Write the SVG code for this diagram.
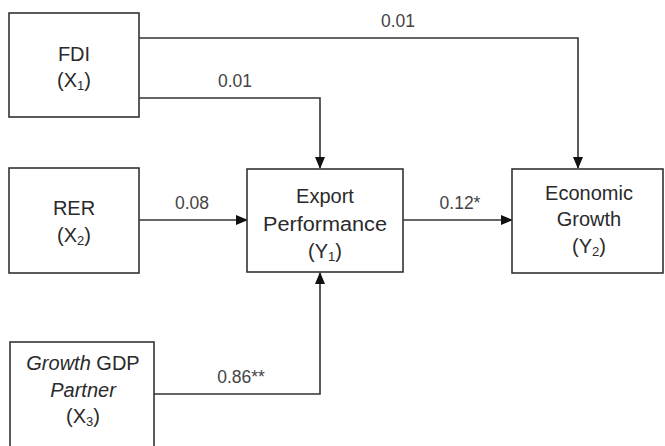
<svg xmlns="http://www.w3.org/2000/svg" width="665" height="446" viewBox="0 0 665 446">
<style>
.box{fill:#fff;stroke:#333;stroke-width:1.6}
.t{font-family:"Liberation Sans",Arial,sans-serif;font-size:20px;fill:#2a2a2a;text-anchor:middle}
.l{font-family:"Liberation Sans",Arial,sans-serif;font-size:17.5px;fill:#444;text-anchor:middle}
.c{fill:none;stroke:#333;stroke-width:1.6}
.sub{font-size:13px}
</style>
<defs>
<marker id="ah" markerWidth="12" markerHeight="10" refX="11" refY="5" orient="auto" markerUnits="userSpaceOnUse">
<path d="M0,0 L12,5 L0,10 Z" fill="#111"/>
</marker>
</defs>
<rect width="665" height="446" fill="#fff"/>
<g id="connectors">
<path class="c" d="M139,38 H578 V168" marker-end="url(#ah)"/>
<path class="c" d="M139,98 H320 V168" marker-end="url(#ah)"/>
<path class="c" d="M139,220 H247" marker-end="url(#ah)"/>
<path class="c" d="M403,220 H512" marker-end="url(#ah)"/>
<path class="c" d="M154,394 H320 V273" marker-end="url(#ah)"/>
<text class="l" x="398" y="27">0.01</text>
<text class="l" x="235" y="87">0.01</text>
<text class="l" x="192" y="209">0.08</text>
<text class="l" x="460" y="209">0.12*</text>
<text class="l" x="241" y="383">0.86**</text>
</g>
<g id="fdi">
<rect class="box" x="9" y="13" width="130" height="104"/>
<text class="t" x="74" y="61">FDI</text>
<text class="t" x="74" y="87">(X<tspan class="sub" dy="3">1</tspan><tspan dy="-3">)</tspan></text>
</g>
<g id="rer">
<rect class="box" x="9" y="168" width="130" height="105"/>
<text class="t" x="74" y="215">RER</text>
<text class="t" x="74" y="242">(X<tspan class="sub" dy="3">2</tspan><tspan dy="-3">)</tspan></text>
</g>
<g id="export">
<rect class="box" x="247" y="169" width="156" height="103"/>
<text class="t" x="325" y="203">Export</text>
<text class="t" x="325" y="231" textLength="124" lengthAdjust="spacingAndGlyphs">Performance</text>
<text class="t" x="325" y="258">(Y<tspan class="sub" dy="3">1</tspan><tspan dy="-3">)</tspan></text>
</g>
<g id="growth">
<rect class="box" x="512" y="169" width="151" height="104"/>
<text class="t" x="589" y="200">Economic</text>
<text class="t" x="589" y="226">Growth</text>
<text class="t" x="589" y="253">(Y<tspan class="sub" dy="3">2</tspan><tspan dy="-3">)</tspan></text>
</g>
<g id="gdp">
<rect class="box" x="10" y="342" width="144" height="110"/>
<text class="t" x="83" y="370"><tspan font-style="italic">Growth</tspan> GDP</text>
<text class="t" x="83" y="397" font-style="italic">Partner</text>
<text class="t" x="83" y="423">(X<tspan class="sub" dy="3">3</tspan><tspan dy="-3">)</tspan></text>
</g>
</svg>
